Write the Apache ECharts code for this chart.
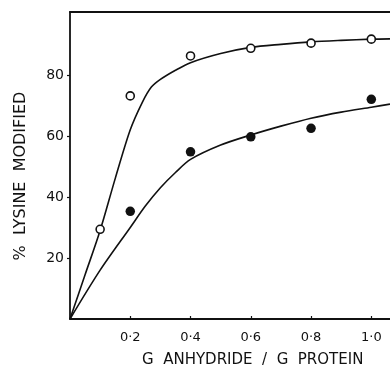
<!DOCTYPE html>
<html><head><meta charset="utf-8">
<script src="https://cdn.jsdelivr.net/npm/echarts@6/dist/echarts.min.js"></script>
<style>html,body{margin:0;padding:0;background:#fff}#c{width:390px;height:372px}</style>
</head><body><div id="c"></div>
<script>
// open circles (upper series)
const openX = [0.1, 0.2, 0.4, 0.6, 0.8, 1.0];
const openY = [29.4, 73.1, 86.2, 88.7, 90.4, 91.7];
// filled circles (lower series)
const filledX = [0.2, 0.4, 0.6, 0.8, 1.0];
const filledY = [35.3, 54.8, 59.7, 62.5, 72.0];
// fitted curves
const upperCurveX = [0, 0.05, 0.1, 0.15, 0.2, 0.24, 0.27, 0.3, 0.35, 0.4, 0.5, 0.6, 0.7, 0.8, 0.9, 1.0, 1.062];
const upperCurveY = [0, 14.5, 29, 46, 62, 71, 76, 78.5, 81.5, 84, 87, 89, 90, 90.8, 91.3, 91.7, 91.8];
const lowerCurveX = [0, 0.1, 0.2, 0.25, 0.3, 0.35, 0.4, 0.5, 0.6, 0.7, 0.8, 0.9, 1.0, 1.062];
const lowerCurveY = [0, 16, 30, 37, 43, 48, 52.3, 57, 60.3, 63.2, 65.8, 67.8, 69.4, 70.4];
// tick labels
const xTicks = [0.2, 0.4, 0.6, 0.8, 1.0];
const xTickLabels = ['0·2', '0·4', '0·6', '0·8', '1·0'];
const yTicks = [20, 40, 60, 80];
const yTickLabels = ['20', '40', '60', '80'];
const xTitle = 'G  ANHYDRIDE  /  G  PROTEIN';
const yTitle = '%  LYSINE  MODIFIED';

const zip = (a, b) => a.map((v, i) => [v, b[i]]);
const FONT = 'DejaVu Sans';
const chart = echarts.init(document.getElementById('c'), null, {renderer: 'canvas'});
chart.setOption({
  animation: false,
  backgroundColor: '#fff',
  grid: {left: 70, right: 0, top: 12, bottom: 53},
  xAxis: [{
    type: 'value', min: 0, max: 1.062,
    splitLine: {show: false},
    axisLine: {lineStyle: {color: '#111', width: 1.8}},
    axisTick: {inside: true, length: 3, customValues: xTicks, lineStyle: {color: '#111', width: 1.2}},
    axisLabel: {customValues: xTicks, margin: 12, color: '#111', fontFamily: FONT, fontSize: 13,
      formatter: v => xTickLabels[xTicks.findIndex(t => Math.abs(t - v) < 1e-6)] || ''}
  }, {
    type: 'value', min: 0, max: 1.062, position: 'top',
    splitLine: {show: false}, axisTick: {show: false}, axisLabel: {show: false},
    axisLine: {lineStyle: {color: '#111', width: 1.8}}
  }],
  yAxis: {
    type: 'value', min: 0, max: 100.6,
    splitLine: {show: false},
    axisLine: {lineStyle: {color: '#111', width: 1.8}},
    axisTick: {length: 3, customValues: yTicks, lineStyle: {color: '#111', width: 1.2}},
    axisLabel: {customValues: yTicks, margin: 6, color: '#111', fontFamily: FONT, fontSize: 14,
      formatter: v => yTickLabels[yTicks.indexOf(v)] || ''}
  },
  graphic: [
    {type: 'text', left: 142, top: 353, style: {text: xTitle, fill: '#111', font: '15px "DejaVu Sans"'}},
    {type: 'text', x: 21, y: 176, rotation: Math.PI / 2,
      style: {text: yTitle, fill: '#111', font: '16px "DejaVu Sans"', align: 'center', verticalAlign: 'middle'}}
  ],
  series: [
    {type: 'line', data: zip(upperCurveX, upperCurveY), smooth: 0.3, showSymbol: false,
      lineStyle: {color: '#111', width: 1.6}, z: 2},
    {type: 'line', data: zip(lowerCurveX, lowerCurveY), smooth: 0.3, showSymbol: false,
      lineStyle: {color: '#111', width: 1.6}, z: 2},
    {type: 'scatter', data: zip(openX, openY), symbol: 'circle', symbolSize: 8,
      itemStyle: {color: '#fff', borderColor: '#111', borderWidth: 1.6, opacity: 1}, z: 3},
    {type: 'scatter', data: zip(filledX, filledY), symbol: 'circle', symbolSize: 9.5,
      itemStyle: {color: '#111', opacity: 1}, z: 3}
  ]
});
</script></body></html>
